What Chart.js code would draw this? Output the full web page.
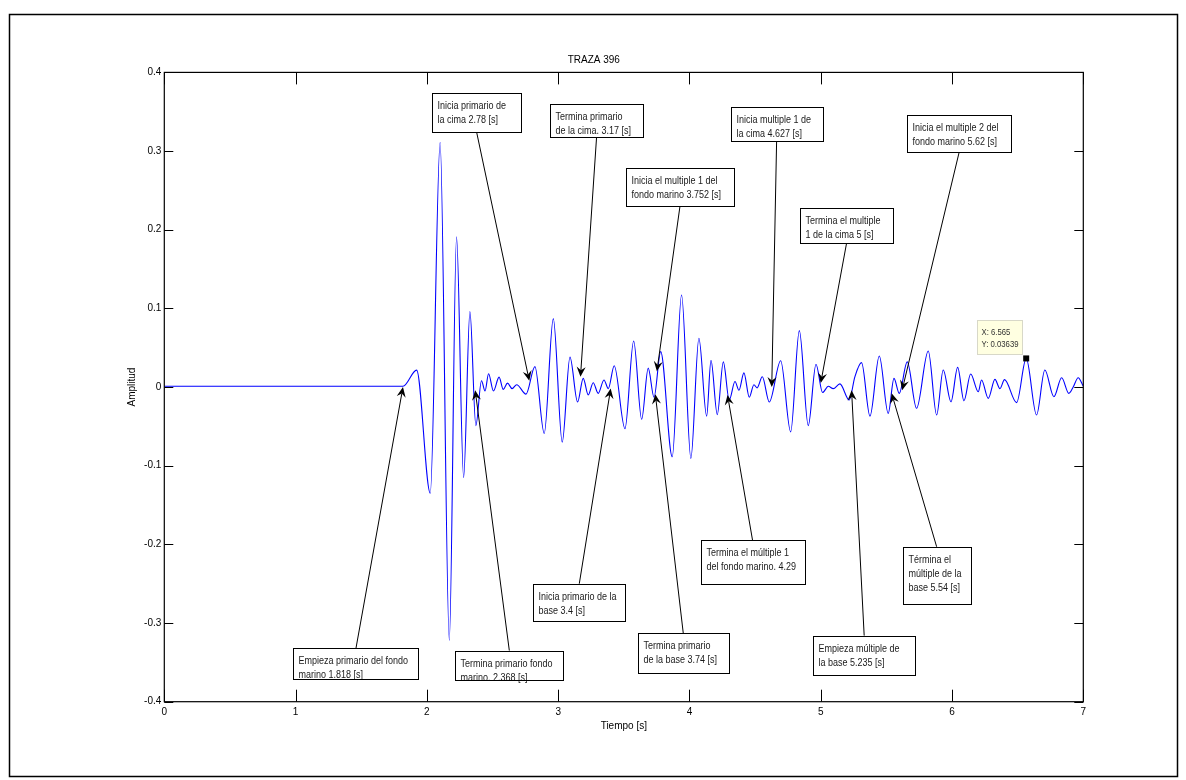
<!DOCTYPE html>
<html>
<head>
<meta charset="utf-8">
<title>TRAZA 396</title>
<script src="https://cdn.jsdelivr.net/npm/chart.js@4.4.1/dist/chart.umd.min.js"></script>
<style>
  html, body { margin: 0; padding: 0; background: #fff; }
  canvas { display: block; }
</style>
</head>
<body>
<canvas id="traza" width="1186" height="780"></canvas>
<script>
// Traza 396: extremos de la señal (tiempo en s, amplitud)
const tiempo = [
  0, 1.818, 1.922, 2.026, 2.101, 2.171, 2.226, 2.280, 2.328, 2.373,
  2.416, 2.443, 2.470, 2.507, 2.550, 2.582, 2.614, 2.649, 2.684, 2.755,
  2.823, 2.894, 2.963, 3.031, 3.090, 3.148, 3.191, 3.229, 3.267, 3.305,
  3.349, 3.382, 3.427, 3.509, 3.575, 3.636, 3.686, 3.730, 3.781, 3.869,
  3.940, 4.011, 4.072, 4.131, 4.164, 4.212, 4.258, 4.303, 4.347, 4.377,
  4.415, 4.456, 4.491, 4.515, 4.555, 4.608, 4.695, 4.771, 4.837, 4.905,
  4.964, 5.014, 5.058, 5.095, 5.146, 5.217, 5.260, 5.311, 5.375, 5.446,
  5.514, 5.558, 5.598, 5.659, 5.730, 5.819, 5.883, 5.933, 5.992, 6.043,
  6.091, 6.142, 6.200, 6.225, 6.276, 6.327, 6.365, 6.400, 6.492, 6.565,
  6.644, 6.707, 6.776, 6.835, 6.890, 6.923, 6.961, 7.0
];
const amplitud = [
  0.001, 0.001, 0.0215, -0.135, 0.311, -0.322, 0.191, -0.115, 0.096, -0.049,
  0.008, -0.005, 0.017, -0.005, 0.0126, -0.003, 0.005, -0.002, 0.003, -0.009,
  0.026, -0.059, 0.087, -0.070, 0.038, -0.019, 0.011, -0.010, 0.0055, -0.008,
  0.009, -0.002, 0.027, -0.053, 0.0585, -0.041, 0.024, -0.013, 0.045, -0.0886,
  0.117, -0.0907, 0.062, -0.037, 0.034, -0.035, 0.032, -0.0165, 0.007, -0.004,
  0.018, -0.013, 0.003, -0.001, 0.013, -0.019, 0.0335, -0.057, 0.0717, -0.049,
  0.029, -0.007, 0.001, -0.002, 0.004, -0.0165, 0.013, 0.031, -0.037, 0.0394,
  -0.0335, 0.011, -0.008, 0.032, -0.027, 0.0458, -0.0356, 0.0216, -0.0187, 0.025,
  -0.0174, 0.0165, -0.006, 0.009, -0.0144, 0.0098, -0.002, 0.0095, -0.0198, 0.03639,
  -0.0356, 0.0216, -0.0123, 0.0118, -0.008, 0.0, 0.0118, 0.001
];

const ticksTiempo = [0, 1, 2, 3, 4, 5, 6, 7];
const ticksAmplitud = [-0.4, -0.3, -0.2, -0.1, 0, 0.1, 0.2, 0.3, 0.4];

// Punto marcado con el cursor de datos
const cursorX = 6.565;
const cursorY = 0.03639;

// Eventos: punta de la flecha (t, a) y cola (colaT, colaA) en unidades de los ejes
const eventos = [
  { lineas: ['Empieza primario del fondo', 'marino 1.818 [s]'], t: 1.818, a: 0.0, colaT: 1.460, colaA: -0.332, ancho: 125, alto: 31 },
  { lineas: ['Termina primario fondo', 'marino. 2.368 [s]'], t: 2.368, a: -0.004, colaT: 2.628, colaA: -0.335, ancho: 108, alto: 29 },
  { lineas: ['Inicia primario de', 'la cima 2.78 [s]'], t: 2.78, a: 0.008, colaT: 2.379, colaA: 0.324, ancho: 89, alto: 39 },
  { lineas: ['Termina primario', 'de la cima. 3.17 [s]'], t: 3.17, a: 0.013, colaT: 3.293, colaA: 0.3185, ancho: 93, alto: 33 },
  { lineas: ['Inicia primario de la', 'base 3.4 [s]'], t: 3.4, a: -0.002, colaT: 3.161, colaA: -0.250, ancho: 92, alto: 37 },
  { lineas: ['Termina primario', 'de la base 3.74 [s]'], t: 3.74, a: -0.009, colaT: 3.953, colaA: -0.313, ancho: 91, alto: 40 },
  { lineas: ['Inicia el multiple 1 del', 'fondo marino 3.752 [s]'], t: 3.752, a: 0.02, colaT: 3.928, colaA: 0.230, ancho: 108, alto: 38 },
  { lineas: ['Termina el múltiple 1', 'del fondo marino. 4.29'], t: 4.29, a: -0.010, colaT: 4.481, colaA: -0.195, ancho: 104, alto: 44 },
  { lineas: ['Inicia multiple 1 de', 'la cima 4.627 [s]'], t: 4.627, a: 0.0, colaT: 4.664, colaA: 0.313, ancho: 92, alto: 34 },
  { lineas: ['Termina el multiple', '1 de la cima 5 [s]'], t: 5, a: 0.005, colaT: 5.197, colaA: 0.183, ancho: 93, alto: 35 },
  { lineas: ['Empieza múltiple de', 'la base 5.235 [s]'], t: 5.235, a: -0.004, colaT: 5.331, colaA: -0.316, ancho: 102, alto: 39 },
  { lineas: ['Términa el', 'múltiple de la', 'base 5.54 [s]'], t: 5.54, a: -0.008, colaT: 5.883, colaA: -0.203, ancho: 68, alto: 57 },
  { lineas: ['Inicia el multiple 2 del', 'fondo marino 5.62 [s]'], t: 5.62, a: -0.004, colaT: 6.055, colaA: 0.299, ancho: 104, alto: 37 }
];

const FUENTE = "'Liberation Sans', Arial, Helvetica, sans-serif";

function flecha(ctx, x0, y0, x1, y1) {
  const dx = x1 - x0, dy = y1 - y0;
  const len = Math.hypot(dx, dy);
  const ux = dx / len, uy = dy / len;
  const px = -uy, py = ux;
  const L = 10, W = 4.5;
  const bx = x1 - ux * L, by = y1 - uy * L;
  const nx = x1 - ux * L * 0.65, ny = y1 - uy * L * 0.65;
  ctx.beginPath();
  ctx.moveTo(x0, y0);
  ctx.lineTo(nx, ny);
  ctx.stroke();
  ctx.beginPath();
  ctx.moveTo(x1, y1);
  ctx.lineTo(bx + px * W, by + py * W);
  ctx.lineTo(nx, ny);
  ctx.lineTo(bx - px * W, by - py * W);
  ctx.closePath();
  ctx.fill();
}

// Marco de la figura, caja de ejes y marcas hacia dentro
const marco = {
  id: 'marco',
  afterDraw(chart) {
    const { ctx, chartArea: a, scales: { x, y } } = chart;
    ctx.save();
    ctx.strokeStyle = '#000';
    ctx.lineWidth = 1.5;
    ctx.strokeRect(9.5, 14.5, 1168, 762);
    ctx.lineWidth = 1.2;
    ctx.strokeRect(a.left, a.top, a.right - a.left, a.bottom - a.top);
    ctx.lineWidth = 1;
    ctx.beginPath();
    ticksTiempo.forEach(v => {
      const px = Math.round(x.getPixelForValue(v)) + 0.5;
      ctx.moveTo(px, a.bottom); ctx.lineTo(px, a.bottom - 12);
      ctx.moveTo(px, a.top); ctx.lineTo(px, a.top + 12);
    });
    ticksAmplitud.forEach(v => {
      const py = Math.round(y.getPixelForValue(v)) + 0.5;
      ctx.moveTo(a.left, py); ctx.lineTo(a.left + 9, py);
      ctx.moveTo(a.right, py); ctx.lineTo(a.right - 9, py);
    });
    ctx.stroke();
    ctx.restore();
  }
};

// Cajas de texto con flecha y cursor de datos
const anotaciones = {
  id: 'anotaciones',
  afterDatasetsDraw(chart) {
    const { ctx, scales: { x, y } } = chart;
    ctx.save();
    ctx.strokeStyle = '#000';
    ctx.fillStyle = '#000';
    ctx.lineWidth = 1;
    eventos.forEach(ev => {
      const tx = x.getPixelForValue(ev.t), ty = y.getPixelForValue(ev.a);
      const cx = x.getPixelForValue(ev.colaT), cy = y.getPixelForValue(ev.colaA);
      flecha(ctx, cx, cy, tx, ty);
      const izq = Math.round(cx - ev.ancho / 2) + 0.5;
      const arriba = Math.round(cy < ty ? cy - ev.alto : cy) + 0.5;
      ctx.fillStyle = '#fff';
      ctx.fillRect(izq, arriba, ev.ancho, ev.alto);
      ctx.fillStyle = '#1a1a1a';
      ctx.font = '10px ' + FUENTE;
      ctx.textBaseline = 'alphabetic';
      ev.lineas.forEach((l, i) => {
        ctx.save();
        ctx.translate(izq + 5, arriba + 15 + i * 14);
        ctx.scale(0.9, 1);
        ctx.fillText(l, 0, 0);
        ctx.restore();
      });
      ctx.strokeRect(izq, arriba, ev.ancho, ev.alto);
      ctx.fillStyle = '#000';
    });

    // cursor de datos
    const mx = x.getPixelForValue(cursorX), my = y.getPixelForValue(cursorY);
    const bw = 45, bh = 34;
    const bx = Math.round(mx - 4 - bw) + 0.5, by = Math.round(my - 4 - bh) + 0.5;
    ctx.fillStyle = '#ffffe1';
    ctx.fillRect(bx, by, bw, bh);
    ctx.strokeStyle = '#d8d8c8';
    ctx.strokeRect(bx, by, bw, bh);
    ctx.fillStyle = '#333';
    ctx.font = '9px ' + FUENTE;
    [['X: ' + cursorX], ['Y: ' + cursorY]].forEach((l, i) => {
      ctx.save();
      ctx.translate(bx + 4, by + 14 + i * 12.5);
      ctx.scale(0.86, 1);
      ctx.fillText(l[0], 0, 0);
      ctx.restore();
    });
    ctx.fillStyle = '#000';
    ctx.fillRect(mx - 3, my - 3, 6, 6);
    ctx.restore();
  }
};

const puntos = tiempo.map((t, i) => ({ x: t, y: amplitud[i] }));
const fuenteEje = { family: FUENTE, size: 10, weight: 'normal' };

new Chart(document.getElementById('traza').getContext('2d'), {
  type: 'line',
  data: {
    datasets: [{
      data: puntos,
      borderColor: '#0000ff',
      borderWidth: 1.1,
      pointRadius: 0,
      fill: false,
      cubicInterpolationMode: 'monotone'
    }]
  },
  options: {
    responsive: false,
    animation: false,
    events: [],
    layout: { padding: { left: 104.3, right: 102.7, top: 0, bottom: 38.3 } },
    plugins: {
      legend: { display: false },
      tooltip: { enabled: false },
      title: {
        display: true,
        text: 'TRAZA 396',
        color: '#000',
        font: fuenteEje,
        padding: { top: 54, bottom: 6.4 }
      }
    },
    scales: {
      x: {
        type: 'linear',
        min: 0,
        max: 7,
        afterFit: s => { s.height = 40; },
        afterBuildTicks: s => { s.ticks = ticksTiempo.map(v => ({ value: v })); },
        grid: { display: false, drawTicks: false },
        border: { display: false },
        ticks: { color: '#000', font: fuenteEje, padding: 5, maxRotation: 0 },
        title: { display: true, text: 'Tiempo [s]', color: '#000', font: fuenteEje, padding: { top: 0, bottom: 9 } }
      },
      y: {
        type: 'linear',
        min: -0.4,
        max: 0.4,
        afterFit: s => { s.width = 60; },
        afterBuildTicks: s => { s.ticks = ticksAmplitud.map(v => ({ value: v })); },
        grid: { display: false, drawTicks: false },
        border: { display: false },
        ticks: { color: '#000', font: fuenteEje, padding: 3, callback: v => String(+v.toFixed(1)) },
        title: { display: true, text: 'Amplitud', color: '#000', font: fuenteEje, padding: { top: 22, bottom: 0 } }
      }
    }
  },
  plugins: [marco, anotaciones]
});
</script>
</body>
</html>
